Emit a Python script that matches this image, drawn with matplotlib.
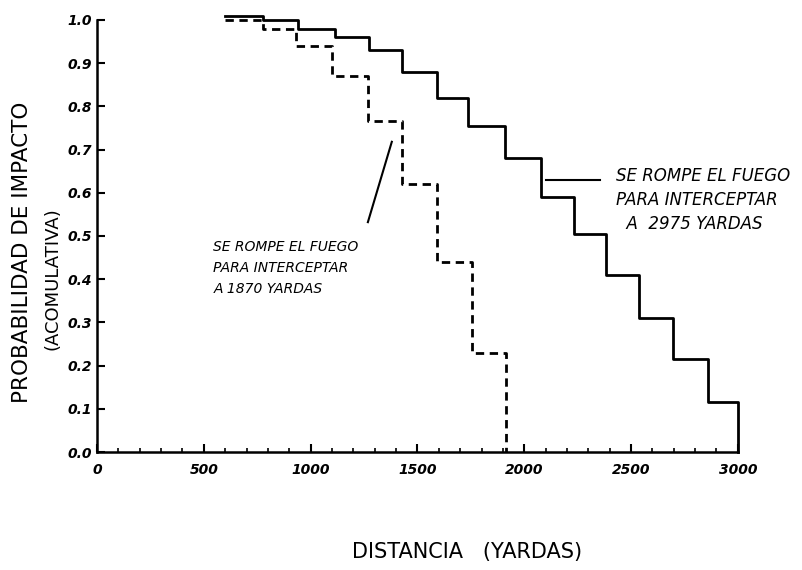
import matplotlib.pyplot as plt
from matplotlib.ticker import MultipleLocator

# distances (yards) where each step starts, and cumulative hit probability
solid_x = [600, 775, 940, 1115, 1275, 1430, 1590, 1735, 1910, 2080, 2235, 2385, 2535, 2695, 2860, 3000]
solid_y = [1.01, 1.0, 0.98, 0.96, 0.93, 0.88, 0.82, 0.755, 0.68, 0.59, 0.505, 0.41, 0.31, 0.215, 0.115, 0.0]

dashed_x = [600, 775, 930, 1100, 1270, 1430, 1590, 1755, 1915]
dashed_y = [1.0, 0.98, 0.94, 0.87, 0.765, 0.62, 0.44, 0.23, 0.0]

x_ticks = [0, 500, 1000, 1500, 2000, 2500, 3000]
y_ticks = [0.0, 0.1, 0.2, 0.3, 0.4, 0.5, 0.6, 0.7, 0.8, 0.9, 1.0]

fig = plt.figure(figsize=(8.02, 5.70), dpi=100)
ax = fig.add_axes([0.121, 0.207, 0.799, 0.758])

ax.step(solid_x, solid_y, where='post', color='black', lw=2.0, clip_on=False)
ax.step(dashed_x, dashed_y, where='post', color='black', lw=2.0,
        linestyle=(0, (3, 2)), clip_on=False)

ax.set_xlim(0, 3000)
ax.set_ylim(0, 1.0)
for s in ['top', 'right']:
    ax.spines[s].set_visible(False)
ax.spines['left'].set_linewidth(1.8)
ax.spines['bottom'].set_linewidth(1.8)

ax.set_xticks(x_ticks)
ax.set_yticks(y_ticks)
ax.xaxis.set_minor_locator(MultipleLocator(100))
ax.tick_params(direction='in', length=6, width=1.5, labelsize=10)
ax.tick_params(axis='x', which='minor', direction='in', length=3, width=1.2)
ax.tick_params(axis='x', pad=8)
ax.set_xticklabels([str(v) for v in x_ticks], style='italic', fontweight='bold')
ax.set_yticklabels(['%.1f' % v for v in y_ticks], style='italic', fontweight='bold')

# annotations
ax.text(545, 0.49, 'SE ROMPE EL FUEGO\nPARA INTERCEPTAR\nA 1870 YARDAS',
        fontsize=10, style='italic', va='top', ha='left', linespacing=1.6)
ax.plot([1268, 1380], [0.532, 0.718], color='black', lw=1.5)

ax.text(2430, 0.66, 'SE ROMPE EL FUEGO\nPARA INTERCEPTAR\n  A  2975 YARDAS',
        fontsize=12, style='italic', va='top', ha='left', linespacing=1.45)
ax.plot([2101, 2354], [0.63, 0.63], color='black', lw=1.5)

fig.text(0.027, 0.558, 'PROBABILIDAD DE IMPACTO', rotation=90, fontsize=15.5,
         ha='center', va='center')
fig.text(0.065, 0.512, '(ACOMULATIVA)', rotation=90, fontsize=13,
         ha='center', va='center')
fig.text(0.582, 0.032, 'DISTANCIA   (YARDAS)', fontsize=15,
         ha='center', va='center')

plt.savefig('out.png', dpi=100)
